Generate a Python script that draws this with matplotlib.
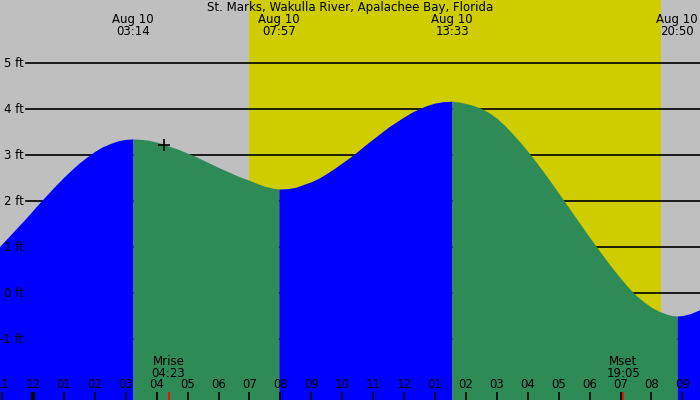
import numpy as np
import matplotlib
matplotlib.use("Agg")
import matplotlib.pyplot as plt

# ---- data (hours after midnight Aug 10, feet) ----
station = "St. Marks, Wakulla River, Apalachee Bay, Florida"

tide_hours = [-1.25, -1.0, -0.75, -0.5, -0.25, 0.0, 0.25, 0.5, 0.75, 1.0, 1.25,
              1.5, 1.75, 2.0, 2.25, 2.5, 2.75, 3.0, 3.233,
              3.5, 3.75, 4.0, 4.25, 4.5, 4.75, 5.0, 5.25, 5.5, 5.75, 6.0, 6.25,
              6.5, 6.75, 7.0, 7.25, 7.5, 7.75, 7.95,
              8.25, 8.5, 8.75, 9.0, 9.25, 9.5, 9.75, 10.0, 10.25, 10.5, 10.75,
              11.0, 11.25, 11.5, 11.75, 12.0, 12.25, 12.5, 12.75, 13.0, 13.25, 13.55,
              13.75, 14.0, 14.25, 14.5, 14.75, 15.0, 15.25, 15.5, 15.75, 16.0,
              16.25, 16.5, 16.75, 17.0, 17.25, 17.5, 17.75, 18.0, 18.25, 18.5,
              18.75, 19.0, 19.25, 19.5, 19.75, 20.0, 20.25, 20.5, 20.65, 20.833,
              21.0, 21.25, 21.5, 21.75]
tide_feet = [0.90, 1.07, 1.25, 1.43, 1.61, 1.80, 1.99, 2.17, 2.35, 2.52, 2.68,
             2.83, 2.96, 3.08, 3.18, 3.25, 3.31, 3.34, 3.35,
             3.34, 3.32, 3.28, 3.23, 3.17, 3.11, 3.04, 2.97, 2.89, 2.81, 2.73, 2.655,
             2.58, 2.51, 2.45, 2.38, 2.32, 2.28, 2.26,
             2.27, 2.30, 2.36, 2.42, 2.50, 2.60, 2.71, 2.83, 2.95, 3.08, 3.22,
             3.35, 3.48, 3.61, 3.72, 3.83, 3.93, 4.01, 4.08, 4.13, 4.16, 4.17,
             4.155, 4.12, 4.075, 4.01, 3.92, 3.80, 3.645, 3.47, 3.28, 3.08,
             2.865, 2.64, 2.41, 2.17, 1.93, 1.69, 1.45, 1.21, 0.98, 0.75,
             0.53, 0.32, 0.125, -0.05, -0.19, -0.31, -0.40, -0.46, -0.49, -0.50,
             -0.49, -0.45, -0.38, -0.30]

hilo_hours = [3.233, 7.95, 13.55, 20.833]
hilo_labels = ["03:14", "07:57", "13:33", "20:50"]
hilo_date = "Aug 10"

sunrise = 6.99   # 06:59
sunset = 20.31   # 20:19

moon_hours = [4.383, 19.083]
moon_labels = ["Mrise\n04:23", "Mset\n19:05"]

marker_hour, marker_feet = 4.24, 3.22

hour_ticks = list(range(-1, 22))
hour_labels = ["11", "12", "01", "02", "03", "04", "05", "06", "07", "08", "09",
               "10", "11", "12", "01", "02", "03", "04", "05", "06", "07", "08", "09"]
feet_levels = [-1, 0, 1, 2, 3, 4, 5]

# ---- figure ----
fig = plt.figure(figsize=(7, 4), dpi=100)
ax = fig.add_axes([0, 0, 1, 1])
x0, x1 = -1.067, 21.57
y0, y1 = -2.326, 6.37
ax.set_xlim(x0, x1)
ax.set_ylim(y0, y1)
ax.axis("off")
ax.add_patch(plt.Rectangle((0, 0), 1, 1, transform=ax.transAxes,
                           color="#bfbfbf", zorder=0))

ax.axvspan(sunrise, sunset, color="#cfcd00", zorder=1, lw=0)

for lv in feet_levels:
    ax.axhline(lv, xmin=26 / 700, xmax=1, color="black", lw=1.2, zorder=2)

t = np.array(tide_hours)
h = np.array(tide_feet)
bounds = [t[0]] + hilo_hours + [t[-1]]
for a, b in zip(bounds[:-1], bounds[1:]):
    m = (t >= a) & (t <= b)
    rising = h[m][-1] > h[m][0]
    ax.fill_between(t[m], y0, h[m], color="#0000ff" if rising else "#2e8b57",
                    lw=0, zorder=3)

ax.plot([marker_hour], [marker_feet], marker="+", color="black", ms=9, mew=1.2, zorder=5)

fs = 8.5
for lv in feet_levels:
    ax.text(-0.3, lv, "%d ft" % lv, ha="right", va="center", fontsize=fs, zorder=6)

ax.text(0.5, 0.982, station, transform=ax.transAxes, ha="center", va="center", fontsize=fs)
for hh, lab in zip(hilo_hours, hilo_labels):
    ax.text(hh, 0.936, hilo_date + "\n" + lab, transform=ax.get_xaxis_transform(),
            ha="center", va="center", fontsize=fs, linespacing=0.95, zorder=6)

xt = ax.get_xaxis_transform()
for hr, lab in zip(hour_ticks, hour_labels):
    ax.text(hr, 0.0375, lab, transform=xt, ha="center", va="center", fontsize=fs, zorder=6)
    ax.plot([hr, hr], [0, 0.02], transform=xt, color="black",
            lw=3 if hr == 0 else 1.2, zorder=6, solid_capstyle="butt")

for mh, lab in zip(moon_hours, moon_labels):
    ax.text(mh, 0.081, lab, transform=xt, ha="center", va="center", fontsize=fs,
            linespacing=0.95, zorder=6)
    ax.plot([mh, mh], [0, 0.02], transform=xt, color="red", lw=1.2, zorder=6,
            solid_capstyle="butt")

fig.savefig("out.png", dpi=100)
